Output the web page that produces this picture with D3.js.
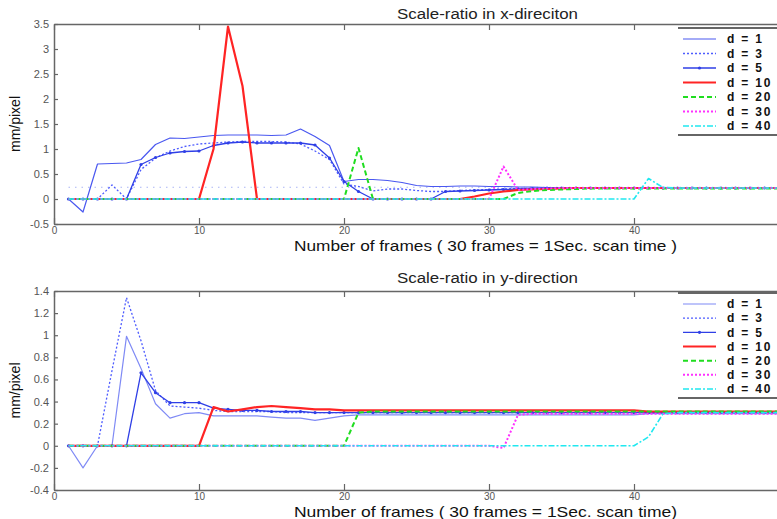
<!DOCTYPE html>
<html>
<head>
<meta charset="utf-8">
<script src="https://cdn.jsdelivr.net/npm/d3@7/dist/d3.min.js"></script>
<style>
  html, body { margin: 0; padding: 0; background: #fff; }
  svg { display: block; font-family: "Liberation Sans", Arial, sans-serif; }
</style>
</head>
<body>
<svg id="chart" width="777" height="519"></svg>
<script>
// ---------------- DATA ----------------
const legendLabels = ["d = 1", "d = 3", "d = 5", "d = 10", "d = 20", "d = 30", "d = 40"];
const xTicks = [0, 10, 20, 30, 40];
const yTicksTop = [-0.5, 0, 0.5, 1, 1.5, 2, 2.5, 3, 3.5];
const yTicksBot = [-0.4, -0.2, 0, 0.2, 0.4, 0.6, 0.8, 1, 1.2, 1.4];
const titleTop = "Scale-ratio in x-direciton";
const titleBot = "Scale-ratio in y-direction";
const xLabelTop = "Number of frames ( 30 frames = 1Sec. scan time )";
const xLabelBot = "Number of frames ( 30 frames = 1Sec. scan time)";
const yLabel = "mm/pixel";

// frames 1..50, one value per frame
const topD1 = [0,-0.26,0.70,0.71,0.72,0.79,1.09,1.22,1.21,1.24,
  1.27,1.28,1.28,1.28,1.27,1.28,1.40,1.25,1.07,0.35,
  0.39,0.39,0.37,0.33,0.27,0.25,0.25,0.26,0.26,0.25,
  0.25,0.24,0.24,0.23,0.23,0.23,0.23,0.23,0.23,0.23,
  0.23,0.23,0.23,0.23,0.23,0.23,0.23,0.23,0.23,0.23];
const topD3 = [0,0,0,0.28,0,0.59,0.82,0.96,1.05,1.10,
  1.12,1.14,1.15,1.15,1.15,1.14,1.10,0.96,0.79,0.30,
  0.25,0.16,0.20,0.20,0.17,0.15,0.15,0.17,0.18,0.19,
  0.20,0.21,0.21,0.22,0.22,0.22,0.22,0.22,0.22,0.22,
  0.22,0.22,0.22,0.22,0.22,0.22,0.22,0.22,0.22,0.22];
const topD5 = [0,0,0,0,0,0.69,0.83,0.92,0.95,0.96,
  1.07,1.12,1.14,1.12,1.12,1.12,1.12,1.08,0.82,0.35,
  0.15,0,0,0,0,0,0.15,0.16,0.17,0.18,
  0.19,0.20,0.21,0.22,0.22,0.22,0.22,0.22,0.22,0.22,
  0.22,0.22,0.22,0.22,0.22,0.22,0.22,0.22,0.22,0.22];
const topD10 = [0,0,0,0,0,0,0,0,0,0,
  1.00,3.45,2.26,0,0,0,0,0,0,0,
  0,0,0,0,0,0,0,0,0.05,0.11,
  0.15,0.18,0.19,0.20,0.21,0.22,0.22,0.22,0.22,0.22,
  0.22,0.22,0.22,0.22,0.22,0.22,0.22,0.22,0.22,0.22];
const topD20 = [0,0,0,0,0,0,0,0,0,0,
  0,0,0,0,0,0,0,0,0,0,
  1.02,0,0,0,0,0,0,0,0,0,
  0,0.12,0.16,0.18,0.19,0.20,0.21,0.21,0.21,0.21,
  0.21,0.21,0.21,0.21,0.21,0.21,0.21,0.21,0.21,0.21];
const topD30 = [0,0,0,0,0,0,0,0,0,0,
  0,0,0,0,0,0,0,0,0,0,
  0,0,0,0,0,0,0,0,0,0,
  0.65,0.18,0.20,0.21,0.22,0.22,0.22,0.22,0.22,0.22,
  0.22,0.22,0.22,0.22,0.22,0.22,0.22,0.22,0.22,0.22];
const topD40 = [0,0,0,0,0,0,0,0,0,0,
  0,0,0,0,0,0,0,0,0,0,
  0,0,0,0,0,0,0,0,0,0,
  0,0,0,0,0,0,0,0,0,0,
  0.41,0.23,0.22,0.22,0.22,0.22,0.22,0.22,0.22,0.22];
// faint dotted reference level in the x-direction panel
const topRefX = [1, 50];
const topRefY = [0.235, 0.235];

const botD1 = [0,-0.20,0,0,0.99,0.70,0.38,0.25,0.29,0.30,
  0.27,0.27,0.27,0.27,0.26,0.25,0.25,0.23,0.25,0.27,
  0.28,0.28,0.28,0.28,0.28,0.28,0.28,0.28,0.28,0.28,
  0.28,0.28,0.28,0.28,0.28,0.28,0.28,0.28,0.28,0.28,
  0.29,0.29,0.29,0.29,0.29,0.29,0.29,0.29,0.29,0.29];
const botD3 = [0,0,0,0.68,1.34,0.95,0.50,0.36,0.35,0.34,
  0.32,0.31,0.31,0.31,0.31,0.30,0.30,0.30,0.30,0.30,
  0.30,0.30,0.30,0.30,0.30,0.30,0.30,0.30,0.30,0.30,
  0.30,0.30,0.30,0.30,0.30,0.30,0.30,0.30,0.30,0.30,
  0.30,0.30,0.30,0.30,0.30,0.30,0.30,0.30,0.30,0.30];
const botD5 = [0,0,0,0,0,0.66,0.48,0.39,0.39,0.39,
  0.34,0.33,0.32,0.32,0.31,0.31,0.31,0.30,0.30,0.30,
  0.30,0.30,0.30,0.30,0.30,0.30,0.30,0.30,0.30,0.30,
  0.30,0.30,0.30,0.30,0.30,0.30,0.30,0.30,0.30,0.30,
  0.30,0.30,0.30,0.30,0.30,0.30,0.30,0.30,0.30,0.30];
const botD10 = [0,0,0,0,0,0,0,0,0,0,
  0.35,0.31,0.33,0.35,0.36,0.35,0.34,0.33,0.33,0.32,
  0.32,0.32,0.32,0.32,0.32,0.32,0.32,0.32,0.32,0.32,
  0.32,0.32,0.32,0.32,0.32,0.32,0.32,0.32,0.32,0.32,
  0.31,0.31,0.31,0.31,0.31,0.31,0.31,0.31,0.31,0.31];
const botD20 = [0,0,0,0,0,0,0,0,0,0,
  0,0,0,0,0,0,0,0,0,0,
  0.30,0.31,0.31,0.31,0.31,0.31,0.31,0.31,0.31,0.31,
  0.31,0.31,0.31,0.31,0.31,0.31,0.31,0.31,0.31,0.31,
  0.31,0.31,0.31,0.31,0.31,0.31,0.31,0.31,0.31,0.31];
const botD30 = [0,0,0,0,0,0,0,0,0,0,
  0,0,0,0,0,0,0,0,0,0,
  0,0,0,0,0,0,0,0,0,0,
  -0.02,0.28,0.29,0.29,0.29,0.29,0.29,0.29,0.29,0.29,
  0.29,0.29,0.29,0.29,0.29,0.29,0.29,0.29,0.29,0.29];
const botD40 = [0,0,0,0,0,0,0,0,0,0,
  0,0,0,0,0,0,0,0,0,0,
  0,0,0,0,0,0,0,0,0,0,
  0,0,0,0,0,0,0,0,0,0,
  0.08,0.29,0.30,0.30,0.30,0.30,0.30,0.30,0.30,0.30];

// ---------------- STYLES ----------------
const stylesTop = [
  { color: "#4a58f0", width: 1.2, dash: null, marker: false },
  { color: "#4e5cff", width: 1.3, dash: "2,2", marker: false },
  { color: "#2f3fe6", width: 1.3, dash: null, marker: true },
  { color: "#ff2424", width: 2.2, dash: null, marker: false },
  { color: "#20dd20", width: 2, dash: "5,3", marker: false },
  { color: "#ff30ff", width: 2, dash: "2,2", marker: false },
  { color: "#20e8f0", width: 1.6, dash: "6,2,2,2", marker: false }
];
const stylesBot = stylesTop.map((s, i) => i === 0 ? Object.assign({}, s, { color: "#7f8af5" }) : s);

const svg = d3.select("#chart");

function drawPanel(cfg) {
  const g = svg.append("g");
  const x = d3.scaleLinear().domain([0, 50]).range([54, 779]);
  const y = d3.scaleLinear().domain(cfg.yDomain).range([cfg.bottom, cfg.top]);

  const clipId = "clip" + cfg.id;
  svg.append("clipPath").attr("id", clipId)
    .append("rect").attr("x", 54).attr("y", cfg.top - 2).attr("width", 730).attr("height", cfg.bottom - cfg.top + 4);

  const plot = g.append("g").attr("clip-path", `url(#${clipId})`);

  if (cfg.ref) {
    plot.append("path")
      .datum(cfg.ref.x.map((v, i) => [v, cfg.ref.y[i]]))
      .attr("fill", "none").attr("stroke", "#a9b4f5").attr("stroke-width", 1)
      .attr("stroke-dasharray", "1.5,5")
      .attr("d", d3.line().x(d => x(d[0])).y(d => y(d[1])));
  }

  const line = d3.line().x((d, i) => x(i + 1)).y(d => y(d));
  cfg.series.forEach((ser, k) => {
    const s = cfg.styles[k];
    const p = plot.append("path").datum(ser)
      .attr("fill", "none").attr("stroke", s.color).attr("stroke-width", s.width)
      .attr("stroke-linejoin", "round")
      .attr("d", line);
    if (s.dash) p.attr("stroke-dasharray", s.dash);
    if (s.marker) {
      plot.selectAll(null).data(ser).enter().append("circle")
        .attr("cx", (d, i) => x(i + 1)).attr("cy", d => y(d)).attr("r", 1.6)
        .attr("fill", s.color);
    }
  });

  // axes (ticks inward, MATLAB style)
  const axisColor = "#666";
  const xb = g.append("g").attr("transform", `translate(0,${cfg.bottom})`)
    .call(d3.axisBottom(x).tickValues(xTicks).tickFormat(d => String(d)).tickSizeInner(-6).tickSizeOuter(0).tickPadding(3));
  const xt = g.append("g").attr("transform", `translate(0,${cfg.top})`)
    .call(d3.axisTop(x).tickValues(xTicks).tickFormat("").tickSizeInner(-6).tickSizeOuter(0));
  const yl = g.append("g").attr("transform", `translate(54,0)`)
    .call(d3.axisLeft(y).tickValues(cfg.yTicks).tickFormat(d => String(d)).tickSizeInner(-4).tickSizeOuter(0).tickPadding(5));
  [xb, xt, yl].forEach(a => {
    a.select(".domain").attr("stroke", axisColor).attr("stroke-width", 1.5);
    a.selectAll(".tick line").attr("stroke", axisColor).attr("stroke-width", 1.2);
    a.selectAll(".tick text").attr("fill", "#555");
  });
  xb.selectAll(".tick text").style("font-size", "10px");
  yl.selectAll(".tick text").style("font-size", "11px");

  // title
  g.append("text").attr("x", 397).attr("y", cfg.titleY)
    .attr("textLength", 181).attr("lengthAdjust", "spacingAndGlyphs")
    .attr("fill", "#222").style("font-size", "14px").text(cfg.title);
  // x label
  g.append("text").attr("x", 294).attr("y", cfg.bottom + 27)
    .attr("textLength", 383).attr("lengthAdjust", "spacingAndGlyphs")
    .attr("fill", "#111").style("font-size", "15px").text(cfg.xLabel);
  // y label
  g.append("text").attr("transform", `translate(20,${(cfg.top + cfg.bottom) / 2}) rotate(-90)`)
    .attr("text-anchor", "middle").attr("fill", "#111").style("font-size", "14px").text(yLabel);

  // legend
  const lg = g.append("g");
  lg.append("line").attr("x1", 678).attr("x2", 777).attr("y1", cfg.legTop).attr("y2", cfg.legTop)
    .attr("stroke", "#666").attr("stroke-width", 2);
  lg.append("line").attr("x1", 678).attr("x2", 777).attr("y1", cfg.legBottom).attr("y2", cfg.legBottom)
    .attr("stroke", "#666").attr("stroke-width", 2);
  const ly = d3.scalePoint().domain(legendLabels).range([cfg.legTop + 11, cfg.legBottom - 9]);
  legendLabels.forEach((lab, k) => {
    const s = cfg.styles[k];
    const yy = ly(lab);
    const l = lg.append("line").attr("x1", 683).attr("x2", 716).attr("y1", yy).attr("y2", yy)
      .attr("stroke", s.color).attr("stroke-width", s.width);
    if (s.dash) l.attr("stroke-dasharray", s.dash);
    if (s.marker) lg.append("circle").attr("cx", 699.5).attr("cy", yy).attr("r", 1.6).attr("fill", s.color);
    lg.append("text").attr("x", 727).attr("y", yy).attr("dy", "0.36em")
      .attr("fill", "#111").style("font-size", "12px").style("font-weight", "bold")
      .style("letter-spacing", "1.8px").text(lab);
  });
}

drawPanel({
  id: "top", top: 24, bottom: 224, yDomain: [-0.5, 3.5], yTicks: yTicksTop,
  series: [topD1, topD3, topD5, topD10, topD20, topD30, topD40], styles: stylesTop,
  ref: { x: topRefX, y: topRefY }, titleY: 19,
  title: titleTop, xLabel: xLabelTop, legTop: 28, legBottom: 135
});
drawPanel({
  id: "bot", top: 291, bottom: 490, yDomain: [-0.4, 1.4], yTicks: yTicksBot,
  series: [botD1, botD3, botD5, botD10, botD20, botD30, botD40], styles: stylesBot,
  ref: null, titleY: 283,
  title: titleBot, xLabel: xLabelBot, legTop: 293, legBottom: 398
});
</script>
</body>
</html>
